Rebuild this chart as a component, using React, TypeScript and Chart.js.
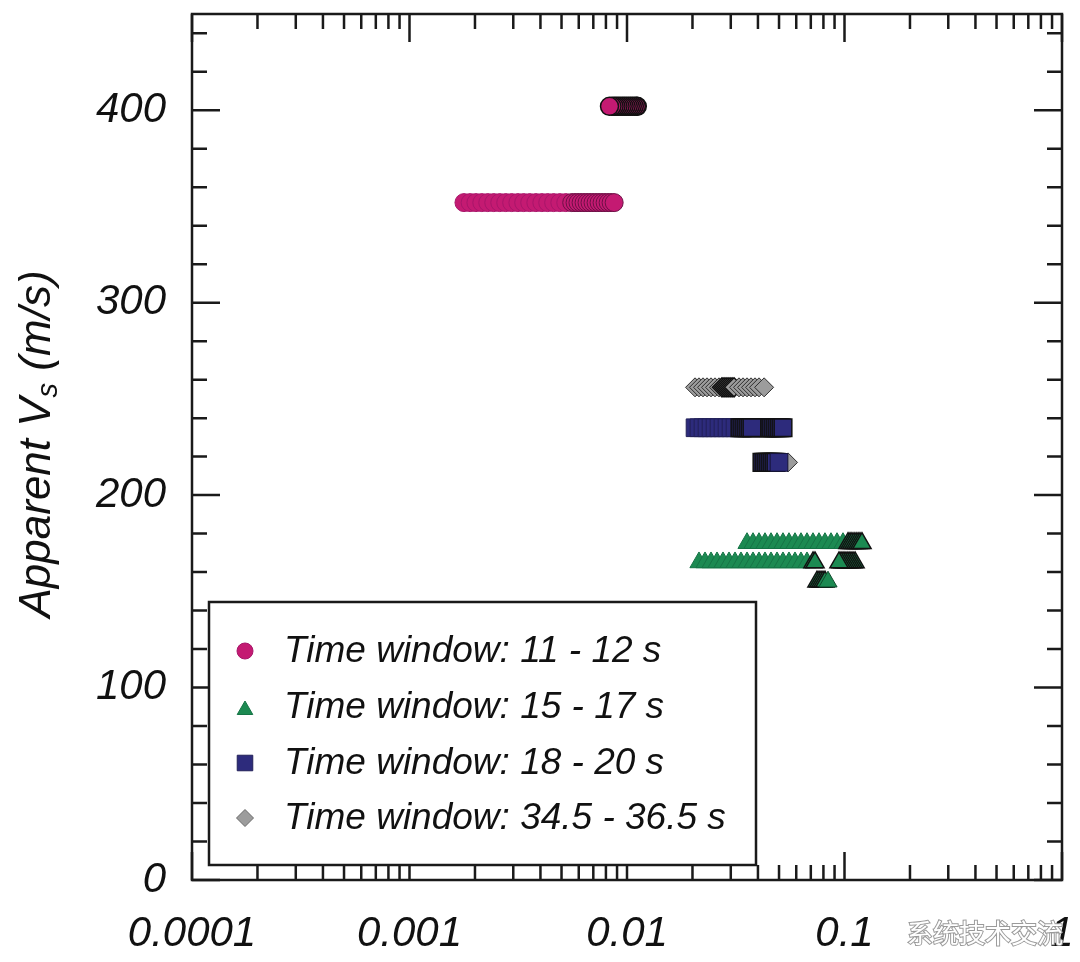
import React, { useEffect, useRef } from 'react';
import { Chart, registerables } from 'chart.js';
import { drawPoint } from 'chart.js/helpers';

Chart.register(...registerables);

const FONT = '"Liberation Sans", Arial, Helvetica, sans-serif';

// ---- series meta ----
const seriesLabels = [
  'Time window: 11 - 12 s',
  'Time window: 15 - 17 s',
  'Time window: 18 - 20 s',
  'Time window: 34.5 - 36.5 s',
];
const seriesColors = ['#c41a72', '#1c8a52', '#2d2b7c', '#9c9c9c'];
const seriesBorders = ['#a8166a', '#167446', '#222058', '#2e2e2e'];
const seriesMidBorders = ['#6e1046', '#0f4a2c', '#151338', '#222222'];
const legendBorders = ['#a8166a', '#167446', '#222058', '#6a6a6a'];
const denseBorder = '#111111';
const seriesShapes = ['circle', 'triangle', 'rect', 'rectRot'];
const seriesRadii = [9, 10.5, 12.5, 9.5];
const legendRadii = [8, 9, 11, 8.5];

// ---- axis ticks ----
const xTickValues = [0.0001, 0.001, 0.01, 0.1, 1];
const xTickLabels = ['0.0001', '0.001', '0.01', '0.1', '1'];
const yTickValues = [0, 100, 200, 300, 400];
const yTitleParts = ['Apparent V', 's', ' (m/s)'];

// ---- Time window 11-12 s (circles) ----
const pinkLevels = [352, 402];
const pinkBand1X = [0.00178, 0.0019, 0.00202, 0.00215, 0.00229, 0.00244, 0.0026, 0.00277, 0.00295, 0.00315, 0.00335, 0.00357, 0.00381, 0.00406, 0.00432, 0.0046, 0.00491, 0.00523, 0.00557, 0.00577, 0.00595, 0.00615, 0.00635, 0.00655, 0.00676, 0.00698, 0.00721, 0.00744, 0.00768, 0.00793, 0.00819, 0.00845, 0.00873];
const pinkBand2X = [0.01115, 0.01104, 0.0108, 0.01057, 0.01035, 0.01013, 0.00991, 0.0097, 0.0095, 0.00929, 0.00909, 0.0089, 0.00872, 0.00853, 0.00831];

// ---- Time window 15-17 s (triangles) ----
const greenLevels = [175, 165, 165, 155];
const greenBand1X = [0.03563, 0.03797, 0.04045, 0.0431, 0.04593, 0.04894, 0.05214, 0.05556, 0.05921, 0.06309, 0.06723, 0.07165, 0.07634, 0.08132, 0.08668, 0.09237, 0.09842, 0.1038, 0.106, 0.1082, 0.1106, 0.113, 0.1154, 0.1178, 0.1203];
const greenBand2X = [0.02143, 0.02284, 0.02434, 0.02593, 0.02763, 0.02945, 0.03138, 0.03343, 0.03563, 0.03797, 0.04045, 0.0431, 0.04593, 0.04894, 0.05214, 0.05556, 0.05921, 0.06309, 0.06723, 0.07165, 0.07316];
const greenBand3X = [0.1118, 0.1094, 0.1071, 0.1049, 0.1027, 0.1005, 0.09842, 0.09636, 0.09434];
const greenBand4X = [0.07473, 0.07634, 0.07797, 0.07962, 0.08132, 0.08396];

// ---- Time window 18-20 s (squares) ----
const blueLevels = [235, 217];
const blueBand1X = [0.02055, 0.02143, 0.02236, 0.02333, 0.02434, 0.02539, 0.02649, 0.02763, 0.02883, 0.03008, 0.03138, 0.0422, 0.0431, 0.04403, 0.04497, 0.04593, 0.04691, 0.04792, 0.04894, 0.04999, 0.05106, 0.05214, 0.03308, 0.03378, 0.0345, 0.03525, 0.036, 0.03678, 0.03755];
const blueBand2X = [0.04176, 0.04265, 0.04356, 0.04449, 0.04545, 0.04642, 0.04741, 0.04842, 0.04999];

// ---- Time window 34.5-36.5 s (diamonds) ----
const greyLevels = [256, 217];
const greyBand1X = [0.02055, 0.02143, 0.02236, 0.02333, 0.02434, 0.02539, 0.02649, 0.02734, 0.02793, 0.02853, 0.02914, 0.02977, 0.03041, 0.03105, 0.03273, 0.03415, 0.03563, 0.03717, 0.03878, 0.04045, 0.0427];
const greyBand2X = [0.055];

const band = (xs: number[], y: number) => xs.map((x) => ({ x, y }));

const seriesData = [
  [...band(pinkBand1X, pinkLevels[0]), ...band(pinkBand2X, pinkLevels[1])],
  [
    ...band(greenBand1X, greenLevels[0]),
    ...band(greenBand2X, greenLevels[1]),
    ...band(greenBand3X, greenLevels[2]),
    ...band(greenBand4X, greenLevels[3]),
  ],
  [...band(blueBand1X, blueLevels[0]), ...band(blueBand2X, blueLevels[1])],
  [...band(greyBand1X, greyLevels[0]), ...band(greyBand2X, greyLevels[1])],
];

// outlines of tightly overlapping markers stack up into dark patches
const nearestGap = (ctx: any) => {
  const data = ctx.dataset.data;
  const k = ctx.dataIndex;
  const p = data[k];
  if (!p) return Infinity;
  let g = Infinity;
  [data[k - 1], data[k + 1]].forEach((q: any) => {
    if (q && q.y === p.y) g = Math.min(g, Math.abs(Math.log10(q.x) - Math.log10(p.x)));
  });
  return g;
};
const borderFor = (i: number) => (ctx: any) => {
  const g = nearestGap(ctx);
  if (g < 0.012) return denseBorder;
  if (g < 0.016) return seriesMidBorders[i];
  return seriesBorders[i];
};
const borderWidthFor = (ctx: any) => (nearestGap(ctx) < 0.012 ? 1.5 : 1);

const framePlugin = {
  id: 'frameTicks',
  afterDatasetsDraw(chart: any) {
    const { ctx, chartArea, scales } = chart;
    const { left, right, top, bottom } = chartArea;
    const xs = scales.x;
    const ys = scales.y;
    ctx.save();
    ctx.strokeStyle = '#1a1a1a';
    ctx.lineWidth = 2.5;
    ctx.beginPath();
    for (let e = -4; e <= 0; e++) {
      for (let k = 1; k <= 9; k++) {
        if (e === 0 && k > 1) break;
        const v = k * Math.pow(10, e);
        const px = xs.getPixelForValue(v);
        const len = k === 1 ? 28 : 15;
        ctx.moveTo(px, bottom);
        ctx.lineTo(px, bottom - len);
        ctx.moveTo(px, top);
        ctx.lineTo(px, top + len);
      }
    }
    for (let v = 0; v <= 440; v += 20) {
      const py = ys.getPixelForValue(v);
      const len = v % 100 === 0 ? 28 : 15;
      ctx.moveTo(left, py);
      ctx.lineTo(left + len, py);
      ctx.moveTo(right, py);
      ctx.lineTo(right - len, py);
    }
    ctx.stroke();
    ctx.strokeRect(left, top, right - left, bottom - top);
    ctx.restore();
  },
};

const legendPlugin = {
  id: 'boxLegend',
  afterDraw(chart: any) {
    const { ctx } = chart;
    ctx.save();
    const bx = 209, by = 602, bw = 547, bh = 263;
    ctx.fillStyle = '#ffffff';
    ctx.fillRect(bx, by, bw, bh);
    ctx.strokeStyle = '#1a1a1a';
    ctx.lineWidth = 2.5;
    ctx.strokeRect(bx, by, bw, bh);
    const rows = [651, 707, 763, 818];
    chart.data.datasets.forEach((ds: any, i: number) => {
      const cy = rows[i];
      ctx.fillStyle = seriesColors[i];
      ctx.strokeStyle = legendBorders[i];
      ctx.lineWidth = 1;
      drawPoint(ctx, { pointStyle: seriesShapes[i], radius: legendRadii[i], rotation: 0, borderWidth: 1 } as any, 245, i === 1 ? cy + 3 : cy);
      ctx.fillStyle = '#111';
      ctx.font = `italic 37px ${FONT}`;
      ctx.textBaseline = 'middle';
      ctx.textAlign = 'left';
      ctx.fillText(ds.label, 284, cy + 1);
    });
    ctx.restore();
  },
};

const titlePlugin = {
  id: 'yTitle',
  afterDraw(chart: any) {
    const { ctx, chartArea } = chart;
    const cy = (chartArea.top + chartArea.bottom) / 2;
    ctx.save();
    ctx.translate(50, cy - 3);
    ctx.rotate(-Math.PI / 2);
    ctx.fillStyle = '#111';
    ctx.textBaseline = 'alphabetic';
    ctx.textAlign = 'left';
    const main = `italic 44px ${FONT}`;
    const sub = `italic 29px ${FONT}`;
    ctx.font = main;
    const w1 = ctx.measureText(yTitleParts[0]).width;
    const w3 = ctx.measureText(yTitleParts[2]).width;
    ctx.font = sub;
    const w2 = ctx.measureText(yTitleParts[1]).width;
    let x0 = -(w1 + w2 + w3) / 2;
    ctx.font = main;
    ctx.fillText(yTitleParts[0], x0, 0);
    x0 += w1;
    ctx.font = sub;
    ctx.fillText(yTitleParts[1], x0, 7);
    x0 += w2;
    ctx.font = main;
    ctx.fillText(yTitleParts[2], x0, 0);
    ctx.restore();

    // watermark
    ctx.save();
    ctx.font = '26px "Noto Sans CJK SC"';
    ctx.textBaseline = 'middle';
    ctx.textAlign = 'left';
    ctx.lineWidth = 2;
    ctx.strokeStyle = '#9a9a9a';
    ctx.strokeText('系统技术交流', 907, 933);
    ctx.fillStyle = '#ffffff';
    ctx.fillText('系统技术交流', 907, 933);
    ctx.restore();
  },
};

export default function App() {
  const ref = useRef<HTMLCanvasElement | null>(null);
  useEffect(() => {
    if (!ref.current) return;
    const chart = new Chart(ref.current, {
      type: 'scatter',
      data: {
        datasets: seriesData.map((d, i) => ({
          label: seriesLabels[i],
          data: d,
          pointStyle: seriesShapes[i] as any,
          pointRadius: seriesRadii[i],
          pointHoverRadius: seriesRadii[i],
          backgroundColor: seriesColors[i],
          borderColor: borderFor(i) as any,
          borderWidth: borderWidthFor as any,
          showLine: false,
        })),
      },
      options: {
        animation: false,
        responsive: true,
        maintainAspectRatio: false,
        events: [],
        layout: { padding: { top: 11, right: 18, left: 0, bottom: 0 } },
        plugins: { legend: { display: false }, tooltip: { enabled: false } },
        scales: {
          x: {
            type: 'logarithmic',
            min: 0.0001,
            max: 1,
            grid: { display: false, drawTicks: false },
            border: { display: false },
            afterBuildTicks: (scale: any) => {
              scale.ticks = xTickValues.map((v) => ({ value: v }));
            },
            afterFit: (scale: any) => {
              scale.height = 82;
              scale.paddingLeft = 0;
              scale.paddingRight = 0;
            },
            ticks: {
              autoSkip: false,
              maxRotation: 0,
              minRotation: 0,
              padding: 29,
              color: '#111',
              font: { family: FONT, size: 42, style: 'italic' },
              callback: (v: any) => {
                const idx = xTickValues.findIndex((t) => Math.abs(t - Number(v)) / t < 1e-6);
                return idx >= 0 ? xTickLabels[idx] : '';
              },
            },
          },
          y: {
            type: 'linear',
            min: 0,
            max: 450,
            grid: { display: false, drawTicks: false },
            border: { display: false },
            afterBuildTicks: (scale: any) => {
              scale.ticks = yTickValues.map((v) => ({ value: v }));
            },
            afterFit: (scale: any) => {
              scale.width = 192;
              scale.paddingTop = 0;
              scale.paddingBottom = 0;
            },
            ticks: {
              padding: 26,
              color: '#111',
              font: { family: FONT, size: 42, style: 'italic' },
              callback: (v: any) => String(v),
            },
          },
        },
      },
      plugins: [framePlugin, legendPlugin, titlePlugin],
    });
    return () => chart.destroy();
  }, []);

  return (
    <div style={{ position: 'absolute', left: 0, top: 0, width: 1080, height: 962, background: '#fff' }}>
      <canvas ref={ref} />
    </div>
  );
}
